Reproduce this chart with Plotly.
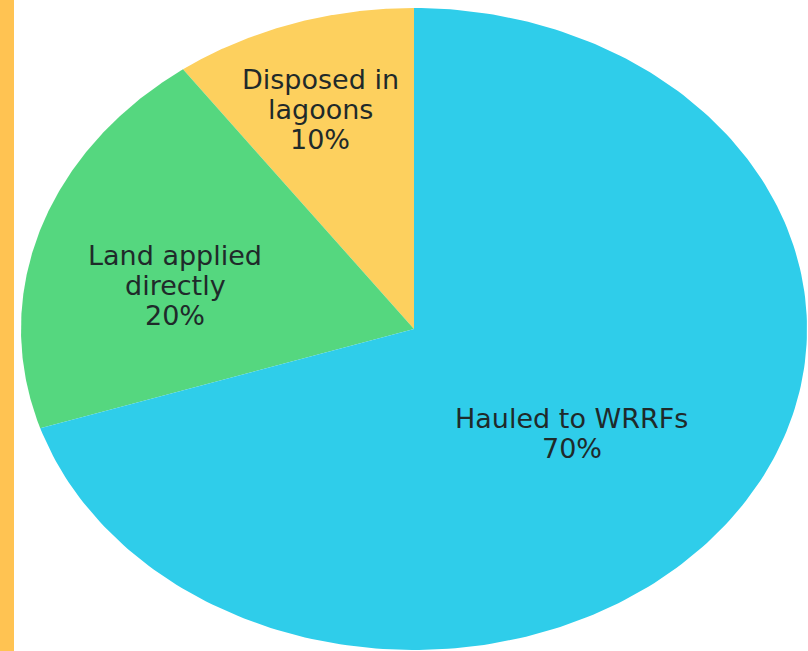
import numpy as np
import plotly.graph_objects as go

labels = [["Disposed in", "lagoons"], ["Land applied", "directly"], ["Hauled to WRRFs"]]
values = [10, 20, 70]
colors = ["#FDD05E", "#55D77F", "#2FCDEA"]
label_radius = [0.723, 0.623, 0.516]
label_angle_offset = [1.3, 5.3, -2.9]

W, H = 808, 651
cx_px, cy_px, rx_px, ry_px = 414, 329, 393, 321
LINE = 30

fig = go.Figure()
total = sum(values)
start = 0.0  # degrees from 12 o'clock, counterclockwise
angles = []
for v in values:
    span = 360.0 * v / total
    angles.append((start, start + span))
    start += span

for (a0, a1), lab, col, v, lr, ao in zip(angles, labels, colors, values,
                                         label_radius, label_angle_offset):
    t = np.radians(np.linspace(a0, a1, 240))
    xs = np.concatenate([[0], -np.sin(t), [0]])
    ys = np.concatenate([[0], np.cos(t), [0]])
    fig.add_trace(go.Scatter(x=xs, y=ys, mode="lines", fill="toself",
                             fillcolor=col, line=dict(width=0, color=col),
                             hoverinfo="skip", showlegend=False))
    am = np.radians((a0 + a1) / 2 + ao)
    lines = lab + [f"{v}%"]
    n = len(lines)
    for i, s in enumerate(lines):
        fig.add_annotation(x=-np.sin(am) * lr, y=np.cos(am) * lr,
                           yshift=((n - 1) / 2 - i) * LINE,
                           text=s, showarrow=False,
                           font=dict(family="DejaVu Sans", size=27, color="#1f2a2a"),
                           align="center", xanchor="center", yanchor="middle")

xr = [(0 - cx_px) / rx_px, (W - cx_px) / rx_px]
yr = [(cy_px - H) / ry_px, (cy_px - 0) / ry_px]
fig.update_xaxes(range=xr, visible=False, fixedrange=True)
fig.update_yaxes(range=yr, visible=False, fixedrange=True)
fig.add_shape(type="rect", xref="paper", yref="paper", x0=0, x1=14 / W, y0=0, y1=1,
              fillcolor="#FFC352", line=dict(width=0), layer="above")
fig.update_layout(width=W, height=H, margin=dict(l=0, r=0, t=0, b=0),
                  paper_bgcolor="white", plot_bgcolor="white")
fig.write_html("out.html", config={"displayModeBar": False},
               post_script="document.body.style.margin='0';document.body.style.overflow='hidden';")
